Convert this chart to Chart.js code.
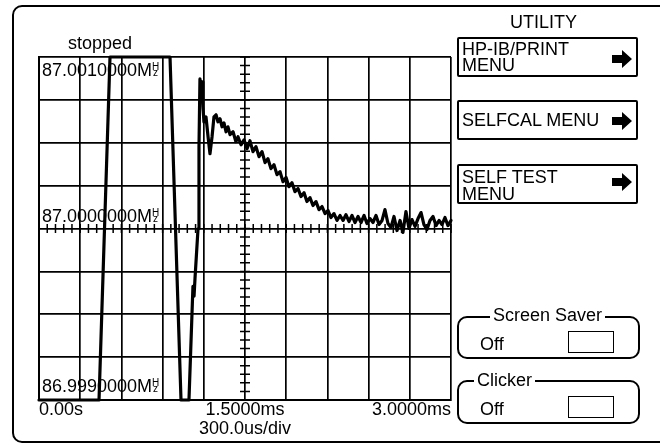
<!DOCTYPE html>
<html><head><meta charset="utf-8">
<script src="https://cdn.jsdelivr.net/npm/chart.js@4.4.1/dist/chart.umd.min.js"></script>
<style>
html,body{margin:0;padding:0;background:#fff;width:660px;height:446px;overflow:hidden;font-family:"Liberation Sans",Arial,sans-serif;color:#000;}
#wrap{position:relative;width:660px;height:446px;}
canvas{position:absolute;left:0;top:0;}
.t{position:absolute;white-space:nowrap;font-size:18px;line-height:18px;}
.frame{position:absolute;left:12px;top:5px;width:700px;height:438px;border:2px solid #000;border-radius:10px;box-sizing:border-box;}
.btn{position:absolute;left:457px;width:181px;height:40px;border:2px solid #000;box-sizing:border-box;border-radius:2px;}
.grp{position:absolute;left:457px;width:183px;border:2px solid #000;border-radius:10px;box-sizing:border-box;}
.sw{position:absolute;left:568px;width:46px;height:22px;border:1.5px solid #000;box-sizing:border-box;}
.lbl{background:#fff;padding:0 3px;}
.arr{position:absolute;left:612px;}
</style></head>
<body><div id="wrap">
<div class="frame"></div>
<canvas id="c" width="660" height="446"></canvas>
<div class="t" style="left:510px;top:13px;">UTILITY</div>
<div class="btn" style="top:37px;"></div>
<div class="t" style="left:462px;top:40px;">HP-IB/PRINT</div>
<div class="t" style="left:462px;top:56px;">MENU</div>
<svg class="arr" style="top:50px;" width="20" height="18" viewBox="0 0 20 18"><polygon points="0,5 10,5 10,0 20,9 10,18 10,13 0,13" fill="#000"/></svg>
<div class="btn" style="top:100px;"></div>
<div class="t" style="left:462px;top:111px;">SELFCAL MENU</div>
<svg class="arr" style="top:112px;" width="20" height="18" viewBox="0 0 20 18"><polygon points="0,5 10,5 10,0 20,9 10,18 10,13 0,13" fill="#000"/></svg>
<div class="btn" style="top:164px;"></div>
<div class="t" style="left:462px;top:168px;">SELF TEST</div>
<div class="t" style="left:462px;top:185px;">MENU</div>
<svg class="arr" style="top:173px;" width="20" height="18" viewBox="0 0 20 18"><polygon points="0,5 10,5 10,0 20,9 10,18 10,13 0,13" fill="#000"/></svg>
<div class="grp" style="top:316px;height:43px;"></div>
<div class="t lbl" style="left:490px;top:306px;">Screen Saver</div>
<div class="t" style="left:480px;top:335px;">Off</div>
<div class="sw" style="top:331px;"></div>
<div class="grp" style="top:380px;height:44px;"></div>
<div class="t lbl" style="left:474px;top:371px;">Clicker</div>
<div class="t" style="left:480px;top:400px;">Off</div>
<div class="sw" style="top:396px;"></div>
</div>
<script>
const timeUs = [0,437,517,954,1034,1092,1121,1129,1136,1158,1165,1172,1180,1187,1194,1201,1216,1231,1245,1260,1274,1289,1303,1318,1333,1347,1362,1376,1391,1413,1434,1449,1471,1493,1515,1536,1558,1580,1602,1624,1646,1667,1689,1711,1733,1755,1777,1799,1820,1842,1864,1886,1908,1930,1951,1973,1995,2017,2039,2061,2083,2104,2126,2148,2170,2192,2214,2235,2257,2279,2301,2323,2345,2367,2388,2410,2432,2454,2476,2498,2519,2541,2563,2585,2607,2629,2650,2672,2694,2716,2738,2760,2782,2803,2825,2847,2869,2891,2913,2934,2956,2978,3000];
const freqHz = [-1000,-1000,1000,1000,-1000,-1000,-337,-395,-291,0,477,872,797,855,709,622,651,535,436,535,651,663,622,640,593,616,564,593,547,564,506,535,488,517,465,512,448,477,419,448,384,407,349,372,314,331,273,297,244,267,215,233,186,209,157,180,134,157,110,128,87,105,64,87,47,76,47,81,41,76,35,70,35,76,29,58,35,76,23,47,110,29,6,70,-12,47,-23,99,0,52,12,58,93,23,-6,47,70,17,47,23,64,17,47];
const xTickValues = [0, 1500, 3000];
const xTickLabels = ['0.00s', '1.5000ms', '3.0000ms'];
const yLabelValues = [1000, 0, -1000];
const yTickLabels = ['87.0010000M', '87.0000000M', '86.9990000M'];
const freqUnit = ['H', 'z'];
const xAxisTitle = '300.0us/div';
const statusText = 'stopped';

const FONT = '"Liberation Sans", Arial, sans-serif';

const overlay = {
  id: 'overlay',
  beforeDatasetsDraw(chart) {
    const {ctx, chartArea: a, scales: {x, y}} = chart;
    ctx.save();
    ctx.strokeStyle = '#000';
    ctx.lineWidth = 1.5;
    const x0 = x.getPixelForValue((x.min + x.max) / 2);
    const y0 = y.getPixelForValue((y.min + y.max) / 2);
    const xMinor = 60, yMinor = 50;
    ctx.beginPath();
    for (let v = x.min; v <= x.max; v += xMinor) {
      const px = x.getPixelForValue(v);
      ctx.moveTo(px, y0 - 4.5); ctx.lineTo(px, y0 + 4.5);
    }
    for (let v = y.min; v <= y.max; v += yMinor) {
      const py = y.getPixelForValue(v);
      ctx.moveTo(x0 - 5, py); ctx.lineTo(x0 + 5, py);
    }
    ctx.stroke();
    ctx.fillStyle = '#000';
    ctx.textBaseline = 'alphabetic';
    ctx.textAlign = 'left';
    const offs = [19, -7, -8];
    yLabelValues.forEach((v, i) => {
      const py = y.getPixelForValue(v) + offs[i];
      const px = a.left + 3;
      ctx.font = '18px ' + FONT;
      ctx.fillText(yTickLabels[i], px, py);
      const w = ctx.measureText(yTickLabels[i]).width;
      ctx.font = '10px ' + FONT;
      ctx.fillText(freqUnit[0], px + w, py - 6);
      ctx.fillText(freqUnit[1], px + w + 1, py);
    });
    ctx.font = '18px ' + FONT;
    ctx.fillText(statusText, a.left + 29, a.top - 8);
    ctx.restore();
  }
};

new Chart(document.getElementById('c'), {
  type: 'line',
  data: {
    datasets: [{
      data: timeUs.map((t, i) => ({x: t, y: freqHz[i]})),
      borderColor: '#000',
      borderWidth: 3.2,
      pointRadius: 0,
      tension: 0,
      fill: false,
      borderJoinStyle: 'round',
      borderCapStyle: 'round',
      clip: 3
    }]
  },
  options: {
    responsive: false,
    animation: false,
    devicePixelRatio: 1,
    layout: {padding: {left: 39, top: 57, right: 209, bottom: 1}},
    plugins: {legend: {display: false}, tooltip: {enabled: false}},
    scales: {
      x: {
        type: 'linear', min: 0, max: 3000,
        ticks: {
          stepSize: 300, autoSkip: false, maxRotation: 0, align: 'inner', padding: 1,
          color: '#000', font: {family: FONT, size: 18, lineHeight: 1},
          callback: (v) => { const i = xTickValues.indexOf(v); return i < 0 ? '' : xTickLabels[i]; }
        },
        grid: {color: '#000', lineWidth: 1.7, drawTicks: false},
        border: {color: '#000', width: 2},
        title: {display: true, text: xAxisTitle, color: '#000', font: {family: FONT, size: 18, lineHeight: 1}, padding: {top: 0, bottom: 7}}
      },
      y: {
        type: 'linear', min: -1000, max: 1000,
        ticks: {stepSize: 250, display: false},
        grid: {color: '#000', lineWidth: 1.7, drawTicks: false},
        border: {color: '#000', width: 2}
      }
    }
  },
  plugins: [overlay]
});
</script>
</body></html>
